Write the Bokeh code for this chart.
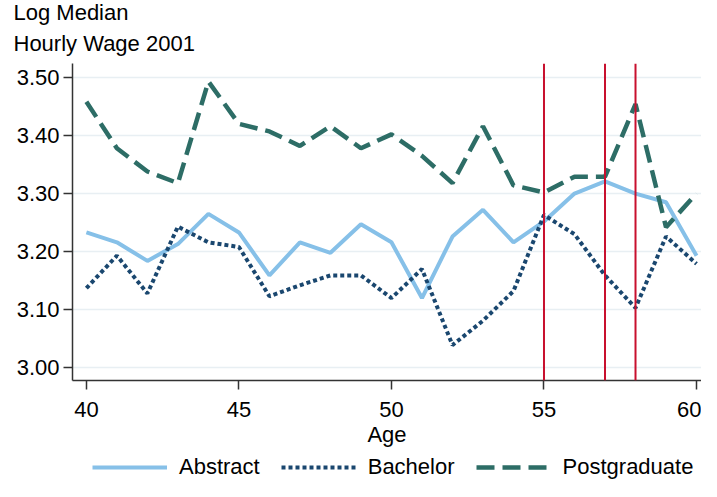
from bokeh.plotting import figure
from bokeh.layouts import column
from bokeh.models import Legend, LegendItem, Title, Span, Range1d, FixedTicker, PrintfTickFormatter
from bokeh.embed import file_html
from bokeh.resources import INLINE

ages = list(range(40, 61))
abstract = [3.233, 3.216, 3.184, 3.213, 3.265, 3.233, 3.159, 3.216, 3.198, 3.247, 3.216,
            3.120, 3.226, 3.272, 3.216, 3.252, 3.300, 3.321, 3.300, 3.285, 3.193]
bachelor = [3.137, 3.193, 3.128, 3.243, 3.216, 3.208, 3.123, 3.142, 3.159, 3.159, 3.120,
            3.170, 3.039, 3.081, 3.132, 3.263, 3.230, 3.159, 3.103, 3.226, 3.179]
postgrad = [3.458, 3.378, 3.338, 3.318, 3.493, 3.420, 3.407, 3.382, 3.416, 3.378, 3.402,
            3.365, 3.318, 3.416, 3.314, 3.302, 3.329, 3.329, 3.454, 3.242, 3.300]
vlines = [55, 57, 58]
x_ticks = [40, 45, 50, 55, 60]
y_ticks = [3.00, 3.10, 3.20, 3.30, 3.40, 3.50]
series_names = ["Abstract", "Bachelor", "Postgraduate"]
y_title_lines = ["Log Median", "Hourly Wage 2001"]

FONT = "Liberation Sans"
FS = "22px"
COLORS = ["#86c0e8", "#1a476f", "#2d6d66"]
DASHES = ["solid", "4 3", "18 8"]
WIDTHS = [4, 4, 4.5]

p = figure(width=701, height=449, output_backend="svg", toolbar_location=None,
           x_range=Range1d(39.545, 60.163), y_range=Range1d(2.978, 3.524),
           min_border_left=72, min_border_right=0, min_border_top=61, min_border_bottom=68)
p.outline_line_color = None

p.xgrid.grid_line_color = None
p.ygrid.grid_line_color = "#e8eff3"
p.ygrid.grid_line_width = 1.5

for ax in (p.xaxis[0], p.yaxis[0]):
    ax.axis_line_color = "#333333"
    ax.axis_line_width = 1.5
    ax.major_tick_line_color = "#333333"
    ax.major_tick_line_width = 1.5
    ax.major_tick_out = 9
    ax.major_tick_in = 0
    ax.minor_tick_line_color = None
    ax.major_label_text_font = FONT
    ax.major_label_text_font_size = FS
    ax.major_label_text_color = "black"

p.xaxis.ticker = FixedTicker(ticks=x_ticks)
p.yaxis.ticker = FixedTicker(ticks=y_ticks)
p.yaxis.formatter = PrintfTickFormatter(format="%.2f")
p.yaxis.major_label_standoff = 4
p.xaxis.major_label_standoff = 12
p.xaxis.axis_label = "Age"
p.xaxis.axis_label_text_font = FONT
p.xaxis.axis_label_text_font_size = FS
p.xaxis.axis_label_text_font_style = "normal"
p.xaxis.axis_label_text_color = "black"
p.xaxis.axis_label_standoff = 2

series = [abstract, bachelor, postgrad]
for ys, c, d, w in zip(series, COLORS, DASHES, WIDTHS):
    p.line(ages, ys, line_color=c, line_width=w, line_dash=d)

for v in vlines:
    p.add_layout(Span(location=v, dimension="height", line_color="#c8102e", line_width=2))

p.add_layout(Title(text=y_title_lines[1], align="left", offset=-59, text_font=FONT,
                   text_font_size=FS, text_font_style="normal", text_color="black",
                   standoff=15), "above")
p.add_layout(Title(text=y_title_lines[0], align="left", offset=-59, text_font=FONT,
                   text_font_size=FS, text_font_style="normal", text_color="black",
                   standoff=-6), "above")

# legend strip (lines drawn out of view; only their legend glyphs show)
lf = figure(width=701, height=32, output_backend="svg", toolbar_location=None,
            x_range=Range1d(0, 1), y_range=Range1d(0, 1),
            min_border_left=0, min_border_right=0, min_border_top=0, min_border_bottom=0)
lf.axis.visible = False
lf.grid.visible = False
lf.outline_line_color = None
lf.background_fill_alpha = 0
lf.border_fill_alpha = 0
items = []
for name, ys, c, d, w in zip(series_names, series, COLORS, DASHES, WIDTHS):
    r = lf.line(ages, ys, line_color=c, line_width=w, line_dash=d)
    items.append(LegendItem(label=name, renderers=[r]))
legend = Legend(items=items, orientation="horizontal", location=(20, 1),
                glyph_width=75, glyph_height=20, label_standoff=12, spacing=21,
                label_text_font=FONT, label_text_font_size=FS, label_text_color="black",
                border_line_color=None, background_fill_alpha=0, margin=0, padding=2)
lf.add_layout(legend)

open("out.html", "w").write(file_html(column(p, lf), INLINE))
